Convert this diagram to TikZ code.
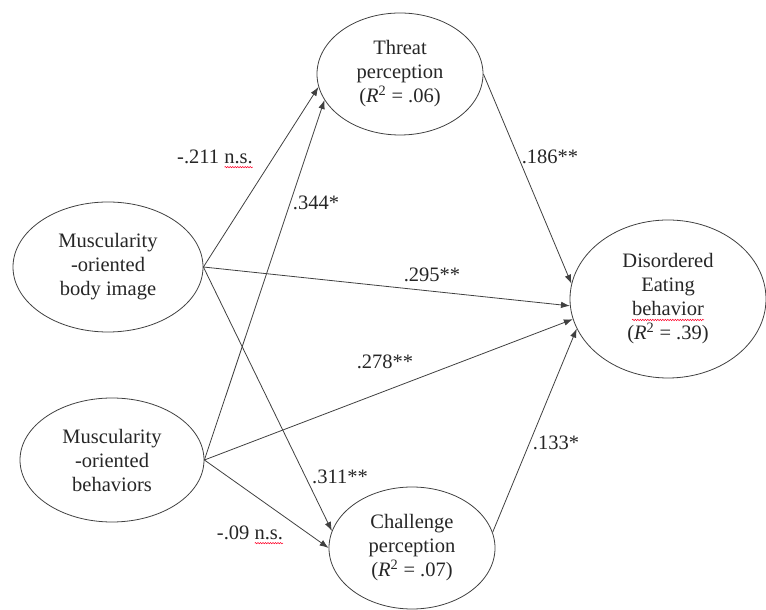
\documentclass[tikz,border=0pt]{standalone}
\usepackage{fontspec}
\setmainfont{Liberation Serif}
\usepackage{tikz}
\usetikzlibrary{shapes.geometric,arrows.meta,decorations.pathmorphing}
\tikzset{
  construct/.style={ellipse,draw=black!75,line width=0.8pt,inner sep=0pt,align=center,text=black!85},
  effect/.style={draw=black!75,line width=0.8pt,-{Latex[length=9pt,width=6.5pt]}},
  coef/.style={inner sep=1pt,text=black!85},
  squiggle/.style={draw=red!85!magenta,line width=0.5pt,decorate,decoration={snake,amplitude=0.7pt,segment length=2.5pt}}
}

\begin{document}
\begin{tikzpicture}[x=1pt,y=1pt,font=\fontsize{20.5}{24}\selectfont]
\useasboundingbox (0,0) rectangle (766,610);
\node[construct,minimum width=166,minimum height=122] (thr) at (400,536) {Threat\\perception\\(\textit{R}\textsuperscript{2} = .06)};
\node[construct,minimum width=190,minimum height=130] (body) at (108,343) {Muscularity\\-oriented\\body image};
\node[construct,minimum width=184,minimum height=124] (beh) at (112,150) {Muscularity\\-oriented\\behaviors};
\node[construct,minimum width=196,minimum height=158] (dis) at (668,311) {Disordered\\Eating\\behavior\\(\textit{R}\textsuperscript{2} = .39)};
\node[construct,minimum width=166,minimum height=122] (cha) at (412,62) {Challenge\\perception\\(\textit{R}\textsuperscript{2} = .07)};
\foreach \src/\dst in {body.east/thr.189, beh.east/thr.199, body.east/dis.184, beh.east/dis.192,
  thr.east/dis.171, cha.11/dis.198, body.east/cha.168, beh.east/cha.180}
  \draw[effect] (\src) -- (\dst);
\foreach \lab/\where/\txt in {
  c1/{215,453}/{-.211 n.s.},
  c2/{316,407}/{.344*},
  c3/{550,453}/{.186**},
  c4/{432,335}/{.295**},
  c5/{385,248}/{.278**},
  c6/{340,133}/{.311**},
  c7/{250,77}/{-.09 n.s.},
  c8/{556,167}/{.133*}}
  \node[coef] (\lab) at (\where) {\txt};
\foreach \lab in {c1,c7}
  \draw[squiggle] ([shift={(-29.5,-3.5)}]\lab.base east) -- ([shift={(-1,-3.5)}]\lab.base east);
\draw[squiggle] ([shift={(-36,-21)}]dis.center) -- ([shift={(36,-21)}]dis.center);
\end{tikzpicture}
\end{document}
